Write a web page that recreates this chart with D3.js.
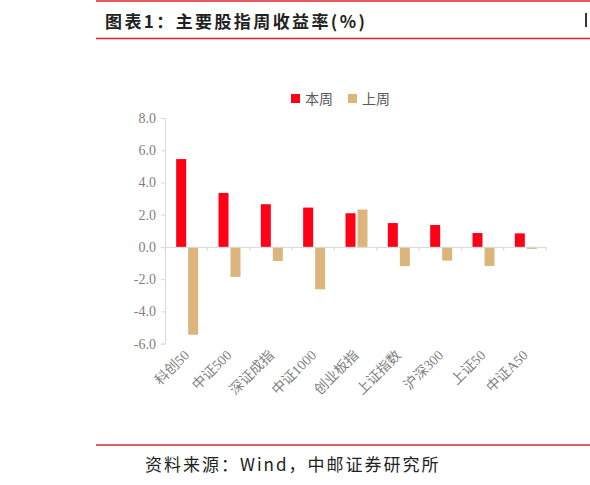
<!DOCTYPE html>
<html>
<head>
<meta charset="utf-8">
<script src="https://cdn.jsdelivr.net/npm/d3@7"></script>
<style>
  body { margin: 0; background: #fff; }
  svg { display: block; }
</style>
</head>
<body>
<svg id="chart"></svg>
<script>
// data
var categories = ['科创50', '中证500', '深证成指', '中证1000', '创业板指', '上证指数', '沪深300', '上证50', '中证A50'];
var thisWeek = [5.45, 3.35, 2.65, 2.44, 2.09, 1.48, 1.36, 0.86, 0.84];
var lastWeek = [-5.45, -1.86, -0.87, -2.63, 2.32, -1.19, -0.85, -1.18, -0.12];
var seriesNames = ['本周', '上周'];
var yTicks = [8, 6, 4, 2, 0, -2, -4, -6];

var width = 590, height = 485;
var colors = ['#ff0016', '#dcb57c'];
var red = '#d9262b';

var svg = d3.select('#chart')
  .attr('width', width)
  .attr('height', height);

// header / footer lines
svg.append('line').attr('x1', 96).attr('x2', width).attr('y1', 1).attr('y2', 1)
  .attr('stroke', red).attr('stroke-width', 1.5);
svg.append('line').attr('x1', 96).attr('x2', width).attr('y1', 38.5).attr('y2', 38.5)
  .attr('stroke', red).attr('stroke-width', 1.5);
svg.append('line').attr('x1', 96).attr('x2', width).attr('y1', 445).attr('y2', 445)
  .attr('stroke', red).attr('stroke-width', 1.5);

svg.append('text')
  .attr('x', 105).attr('y', 28)
  .attr('font-family', '"Noto Sans CJK SC", sans-serif')
  .attr('font-size', 17).attr('font-weight', 'bold')
  .attr('letter-spacing', 2.4)
  .attr('fill', '#222')
  .text('图表1：主要股指周收益率(%)');
svg.append('rect').attr('x', 585).attr('y', 13).attr('width', 2).attr('height', 14)
  .attr('fill', '#333');

svg.append('text')
  .attr('x', 145).attr('y', 471)
  .attr('font-family', '"Noto Sans CJK SC", sans-serif')
  .attr('font-size', 17)
  .attr('letter-spacing', 2)
  .attr('fill', '#222')
  .text('资料来源：Wind，中邮证券研究所');

// scales
var x = d3.scaleBand().domain(categories).range([165, 546]);
var y = d3.scaleLinear().domain([-6, 8]).range([343.6, 118]);
var barW = 10, gap = 2;

var fmt = function(d) { return d3.format('.1f')(d).replace('\u2212', '-'); };
var yAxis = d3.axisLeft(y).tickValues(yTicks).tickSize(4).tickFormat(fmt);
var gy = svg.append('g').attr('transform', 'translate(165,0)').call(yAxis);
gy.select('.domain').attr('stroke', '#d9d9d9');
gy.selectAll('.tick line').attr('stroke', '#d9d9d9');
gy.selectAll('.tick text')
  .attr('font-family', '"Liberation Serif", serif')
  .attr('font-size', 14).attr('fill', '#7f7f7f').attr('dx', -2);

// bars
[thisWeek, lastWeek].forEach(function(vals, si) {
  svg.append('g').selectAll('rect')
    .data(vals)
    .enter().append('rect')
    .attr('x', function(d, i) {
      var c = x(categories[i]) + x.bandwidth() / 2;
      return si === 0 ? c - barW - gap / 2 + 1 : c + gap / 2 + 1;
    })
    .attr('y', function(d) { return y(Math.max(0, d)); })
    .attr('width', barW)
    .attr('height', function(d) { return Math.abs(y(d) - y(0)); })
    .attr('fill', colors[si]);
});

// x axis at zero
var xAxis = d3.axisBottom(x).tickSize(4).tickFormat('');
var gx = svg.append('g').attr('transform', 'translate(0,' + y(0) + ')').call(xAxis);
gx.select('.domain').attr('stroke', '#d9d9d9').attr('d', 'M165,0.5H546');
gx.selectAll('.tick').remove();
var edges = categories.map(function(c) { return x(c); }).concat([546]);
gx.selectAll('line.sep')
  .data(edges)
  .enter().append('line')
  .attr('x1', function(d) { return d; }).attr('x2', function(d) { return d; })
  .attr('y1', 0).attr('y2', 4)
  .attr('stroke', '#d9d9d9');

// category labels
svg.append('g').selectAll('text')
  .data(categories)
  .enter().append('text')
  .attr('transform', function(d) {
    return 'translate(' + (x(d) + x.bandwidth() / 2 + 4) + ',356) rotate(-45)';
  })
  .attr('text-anchor', 'end')
  .attr('font-family', '"Liberation Serif", "Noto Sans CJK SC", serif')
  .attr('font-size', 14)
  .attr('fill', '#7f7f7f')
  .text(function(d) { return d; });

// legend
var legend = svg.append('g').attr('transform', 'translate(291,94)');
seriesNames.forEach(function(name, i) {
  var g = legend.append('g').attr('transform', 'translate(' + (i * 57) + ',0)');
  g.append('rect').attr('width', 9).attr('height', 9).attr('fill', colors[i]);
  g.append('text').attr('x', 14).attr('y', 9.5)
    .attr('font-family', '"Noto Sans CJK SC", sans-serif')
    .attr('font-size', 14).attr('fill', '#595959')
    .text(name);
});
</script>
</body>
</html>
